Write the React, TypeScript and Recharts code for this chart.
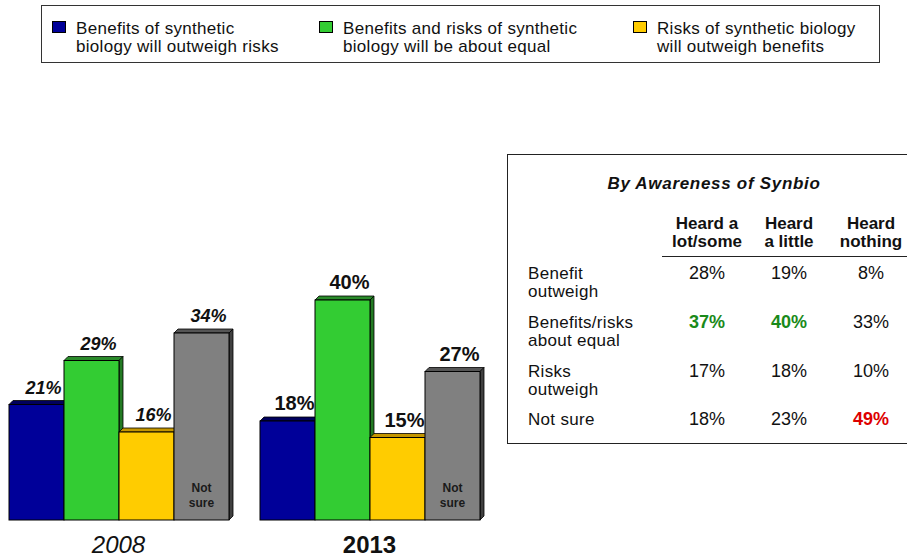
import React from "react";
import { BarChart, Bar, XAxis, YAxis, LabelList } from "recharts";

// bar chart values
const years = ["2008", "2013"];
const benefitsOutweigh = [21, 18];
const aboutEqual = [29, 40];
const risksOutweigh = [16, 15];
const notSure = [34, 27];
const notSureLabel = ["Not", "sure"];

const legendLabels = [
  ["Benefits of synthetic", "biology will outweigh risks"],
  ["Benefits and risks of synthetic", "biology will be about equal"],
  ["Risks of synthetic biology", "will outweigh benefits"],
];

// side table
const tableTitle = "By Awareness of Synbio";
const awarenessHeaders = [
  ["Heard a", "lot/some"],
  ["Heard", "a little"],
  ["Heard", "nothing"],
];
const answerLabels = [
  ["Benefit", "outweigh"],
  ["Benefits/risks", "about equal"],
  ["Risks", "outweigh"],
  ["Not sure"],
];
const heardLotSome = [28, 37, 17, 18];
const heardLittle = [19, 40, 18, 23];
const heardNothing = [8, 33, 10, 49];

const FONT = '"Liberation Sans", Arial, Helvetica, sans-serif';

const series = [
  { key: "benefits", fill: "#000099", top: "#00005c", side: "#000048" },
  { key: "equal", fill: "#33cc33", top: "#2a8a2a", side: "#237a23" },
  { key: "risks", fill: "#ffcc00", top: "#c49600", side: "#a88000" },
  { key: "notSure", fill: "#808080", top: "#555555", side: "#404040" },
];

// highlighted table cells: [row, col] -> colour
const highlightColors: Record<string, string> = {
  "1-0": "#1a8a1a",
  "1-1": "#1a8a1a",
  "3-2": "#dd0000",
};

const data = years.map((year, i) => ({
  year,
  benefits: benefitsOutweigh[i],
  equal: aboutEqual[i],
  risks: risksOutweigh[i],
  notSure: notSure[i],
}));

const DEPTH = 4;

const Box3D = (props: any) => {
  const { x, y, width, height, fill, top, side } = props;
  if (width == null || height == null || height <= 0) return null;
  const d = DEPTH;
  return (
    <g>
      <polygon
        points={`${x},${y} ${x + d},${y - d} ${x + width + d},${y - d} ${x + width},${y}`}
        fill={top}
        stroke="#000"
        strokeWidth={0.8}
      />
      <polygon
        points={`${x + width},${y} ${x + width + d},${y - d} ${x + width + d},${y + height - d} ${x + width},${y + height}`}
        fill={side}
        stroke="#000"
        strokeWidth={0.8}
      />
      <rect x={x} y={y} width={width} height={height} fill={fill} stroke="#000" strokeWidth={1} />
    </g>
  );
};

const getBox = (props: any) => {
  const vb = props.viewBox && props.viewBox.width != null ? props.viewBox : props;
  return { x: vb.x, y: vb.y, width: vb.width, height: vb.height };
};

const ValueLabel = (props: any) => {
  const { index, value } = props;
  const { x, y, width } = getBox(props);
  if (x == null) return null;
  const first = index === 0;
  return (
    <text
      x={x + width / 2 + 7}
      y={y - 11}
      textAnchor="middle"
      fontFamily={FONT}
      fontWeight="bold"
      fontStyle={first ? "italic" : "normal"}
      fontSize={first ? 18 : 20}
      fill="#111"
    >
      {`${value}%`}
    </text>
  );
};

const NotSureLabel = (props: any) => {
  const { x, y, width, height } = getBox(props);
  if (x == null) return null;
  const bottom = y + height;
  return (
    <g fontFamily={FONT} fontWeight="bold" fontSize={12} fill="#1a1a1a">
      {notSureLabel.map((t, i) => (
        <text key={t} textAnchor="middle" x={x + width / 2} y={bottom - 28 + i * 15}>
          {t}
        </text>
      ))}
    </g>
  );
};

const YearTick = (props: any) => {
  const { x, y, payload } = props;
  const first = payload.index === 0;
  return (
    <text
      x={x}
      y={y + 25}
      textAnchor="middle"
      fontFamily={FONT}
      fontSize={24}
      fontStyle={first ? "italic" : "normal"}
      fontWeight={first ? "normal" : "bold"}
      fill="#111"
    >
      {payload.value}
    </text>
  );
};

const legendX = [52, 319, 633];
const colX = [707, 789, 871];
const rowY = [279, 328, 377, 425];
const tableValues = [heardLotSome, heardLittle, heardNothing];

export default function App() {
  return (
    <div
      style={{
        position: "absolute",
        left: 0,
        top: 0,
        width: 907,
        height: 557,
        overflow: "hidden",
        background: "#fff",
      }}
    >
      <div style={{ position: "absolute", left: -27, top: 200 }}>
        <BarChart
          width={542}
          height={357}
          data={data}
          margin={{ top: 45, right: 20, bottom: 0, left: 20 }}
          barCategoryGap={16}
          barGap={0}
        >
          <XAxis
            dataKey="year"
            height={37}
            axisLine={false}
            tickLine={false}
            interval={0}
            tick={(p: any) => <YearTick {...p} />}
          />
          <YAxis hide domain={[0, 50]} />
          {series.map((s) => (
            <Bar
              key={s.key}
              dataKey={s.key}
              fill={s.fill}
              isAnimationActive={false}
              shape={(p: any) => <Box3D {...p} top={s.top} side={s.side} />}
            >
              <LabelList dataKey={s.key} content={(p: any) => <ValueLabel {...p} />} />
              {s.key === "notSure" && (
                <LabelList dataKey={s.key} content={(p: any) => <NotSureLabel {...p} />} />
              )}
            </Bar>
          ))}
        </BarChart>
      </div>

      <svg
        width={907}
        height={557}
        style={{ position: "absolute", left: 0, top: 0, pointerEvents: "none" }}
        fontFamily={FONT}
      >
        {/* legend */}
        <rect x={41.5} y={5.5} width={838} height={57} fill="#fff" stroke="#333" />
        {legendLabels.map((lines, i) => (
          <g key={i}>
            <rect
              x={legendX[i] + 0.5}
              y={21.5}
              width={13}
              height={11}
              fill={series[i].fill}
              stroke="#000"
            />
            {lines.map((t, j) => (
              <text
                key={j}
                x={legendX[i] + 24}
                y={34 + j * 18}
                fontSize={17}
                letterSpacing={0.3}
                fill="#111"
              >
                {t}
              </text>
            ))}
          </g>
        ))}

        {/* table */}
        <rect x={507.5} y={154.5} width={420} height={289} fill="#fff" stroke="#222" />
        <text
          x={714}
          y={189}
          textAnchor="middle"
          fontSize={17}
          fontWeight="bold"
          fontStyle="italic"
          letterSpacing={0.7}
          fill="#111"
        >
          {tableTitle}
        </text>
        {awarenessHeaders.map((lines, c) =>
          lines.map((t, j) => (
            <text
              key={`${c}-${j}`}
              x={colX[c]}
              y={229 + j * 18}
              textAnchor="middle"
              fontSize={17}
              fontWeight="bold"
              fill="#111"
            >
              {t}
            </text>
          ))
        )}
        <line x1={662} x2={907} y1={256.5} y2={256.5} stroke="#222" />
        {answerLabels.map((lines, r) =>
          lines.map((t, j) => (
            <text
              key={`${r}-${j}`}
              x={528}
              y={rowY[r] + j * 18}
              fontSize={17}
              letterSpacing={0.3}
              fill="#111"
            >
              {t}
            </text>
          ))
        )}
        {tableValues.map((col, c) =>
          col.map((v, r) => {
            const hl = highlightColors[`${r}-${c}`];
            return (
              <text
                key={`${r}-${c}`}
                x={colX[c]}
                y={rowY[r]}
                textAnchor="middle"
                fontSize={18}
                fontWeight={hl ? "bold" : "normal"}
                fill={hl || "#111"}
              >
                {`${v}%`}
              </text>
            );
          })
        )}
      </svg>
    </div>
  );
}
